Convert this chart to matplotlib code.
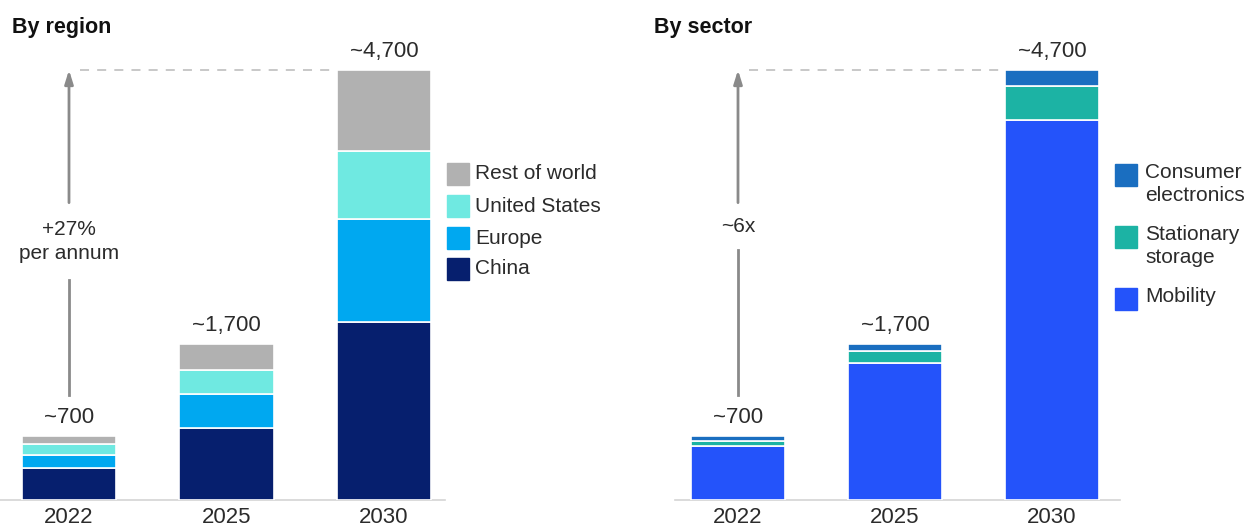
import matplotlib
matplotlib.use("Agg")
import matplotlib.pyplot as plt
from matplotlib.patches import Rectangle
import numpy as np

plt.rcParams['font.family'] = ['Liberation Sans', 'DejaVu Sans']

# ---------------- data ----------------
years = ["2022", "2025", "2030"]
totals = [700, 1700, 4700]
total_labels = ["~700", "~1,700", "~4,700"]

region_names = ["China", "Europe", "United States", "Rest of world"]
china = [350, 790, 1950]
europe = [140, 370, 1120]
united_states = [125, 260, 745]
rest_of_world = [85, 280, 885]
region_colors = ["#061F6E", "#00A8F0", "#6FE9E1", "#B1B1B1"]

sector_names = ["Mobility", "Stationary storage", "Consumer electronics"]
sector_legend = ["Mobility", "Stationary\nstorage", "Consumer\nelectronics"]
mobility = [590, 1500, 4150]
stationary = [60, 130, 380]
consumer = [50, 70, 170]
sector_colors = ["#2453FA", "#1CB3A4", "#1A6EC0"]

left_note = "+27%\nper annum"
right_note = "~6x"

# ---------------- layout ----------------
W, H = 1253, 530
fig = plt.figure(figsize=(W / 100, H / 100), dpi=100)
TXT = "#2b2b2b"

def fx(px):
    return px / W

def fy(py):
    return 1 - py / H

Y_TOP = 4700 * 460 / 430

ax1 = fig.add_axes([fx(0), fy(500), fx(445), 460 / H])
ax2 = fig.add_axes([fx(675), fy(500), fx(445), 460 / H])

def draw_panel(ax, series, colors, xlim, note, gap):
    x = np.arange(len(years))
    bottom = np.zeros(len(years))
    for vals, c in zip(series, colors):
        ax.bar(x, vals, bottom=bottom, width=0.6, color=c,
               edgecolor="white", linewidth=1.2, zorder=3)
        bottom += np.array(vals)
    for xi, t, lab in zip(x, totals, total_labels):
        ax.annotate(lab, (xi, t), xytext=(0, 6), textcoords="offset points",
                    ha="center", va="bottom", fontsize=16, color=TXT)
    ax.set_xlim(*xlim)
    ax.set_ylim(0, Y_TOP)
    ax.set_xticks(x, years)
    ax.tick_params(axis="x", length=0, pad=5, labelsize=16, labelcolor=TXT)
    ax.set_yticks([])
    for s in ["top", "right", "left"]:
        ax.spines[s].set_visible(False)
    ax.spines["bottom"].set_color("#d4d4d4")
    ax.spines["bottom"].set_linewidth(1.2)
    # growth arrow
    lo, g1, g2 = 1150, gap[0], gap[1]
    ax.plot([0, 0], [lo, g1], color="#8a8a8a", lw=2, zorder=2)
    ax.annotate("", xy=(0, totals[-1]), xytext=(0, g2),
                arrowprops=dict(arrowstyle="-|>,head_length=0.8,head_width=0.25",
                                color="#8a8a8a", lw=2, shrinkA=0, shrinkB=0))
    ax.text(0, (g1 + g2) / 2, note, ha="center", va="center",
            fontsize=15, color=TXT, linespacing=1.3)
    ax.plot([0.07, 2 - 0.3], [totals[-1], totals[-1]], color="#c4c4c4",
            lw=1.3, ls=(0, (5, 4.5)), zorder=1)

draw_panel(ax1, [china, europe, united_states, rest_of_world], region_colors,
           (-69 / 157.5, 376 / 157.5), left_note, (2400, 3250))
draw_panel(ax2, [mobility, stationary, consumer], sector_colors,
           (-63 / 157, 382 / 157), right_note, (2730, 3250))

# titles
fig.text(fx(12), fy(27), "By region", fontsize=15.5, fontweight="bold",
         color="#111111", va="center", ha="left")
fig.text(fx(654), fy(27), "By sector", fontsize=15.5, fontweight="bold",
         color="#111111", va="center", ha="left")

# legends (manual, top-to-bottom)
sq = 22
left_y = [174, 206, 238, 269]
for name, c, yc in zip(region_names[::-1], region_colors[::-1], left_y):
    fig.add_artist(Rectangle((fx(447), fy(yc + sq / 2)), fx(sq), sq / H,
                             transform=fig.transFigure, color=c))
    fig.text(fx(475), fy(yc), name, fontsize=15, color=TXT, va="center", ha="left")

right_y = [175, 237, 299]
for name, c, yc in zip(sector_legend[::-1], sector_colors[::-1], right_y):
    fig.add_artist(Rectangle((fx(1115), fy(yc + sq / 2)), fx(sq), sq / H,
                             transform=fig.transFigure, color=c))
    fig.text(fx(1145), fy(yc - 12), name, fontsize=15, color=TXT, va="top",
             ha="left", linespacing=1.25)

fig.savefig("out.png", dpi=100)
